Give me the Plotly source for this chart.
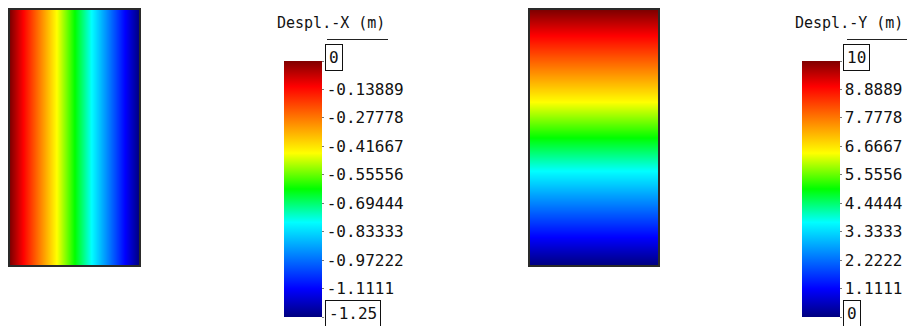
import plotly.graph_objects as go

W, H = 911, 326

# Plate geometry (m) and nodal displacements (m)
plate_x = [0.0, 1.0]
plate_y = [0.0, 2.0]
despl_x_nodes = [0.0, -1.25]   # varies along x
despl_y_nodes = [0.0, 10.0]    # varies along y

# Legend labels
ticks_x = ["0", "-0.13889", "-0.27778", "-0.41667", "-0.55556",
           "-0.69444", "-0.83333", "-0.97222", "-1.1111", "-1.25"]
ticks_y = ["10", "8.8889", "7.7778", "6.6667", "5.5556",
           "4.4444", "3.3333", "2.2222", "1.1111", "0"]

title_x = "Despl.-X (m)"
title_y = "Despl.-Y (m)"

jet = [
    [0.00, "rgb(0,0,128)"],
    [0.11, "rgb(0,0,255)"],
    [0.37, "rgb(0,255,255)"],
    [0.50, "rgb(0,255,0)"],
    [0.64, "rgb(255,255,0)"],
    [0.90, "rgb(255,0,0)"],
    [1.00, "rgb(128,0,0)"],
]

FONT = "DejaVu Sans Mono"


def px(p):
    return p / W


def py(p):
    return 1 - p / H


z_x = [[v for v in despl_x_nodes] for _ in plate_y]
z_y = [[v for _ in plate_x] for v in despl_y_nodes]

BAR_TOP, BAR_LEN, BAR_W = 61, 256, 38
bars = [
    dict(left=284, ticks=ticks_x, title=title_x, tx=275, ul=(327, 388)),
    dict(left=802, ticks=ticks_y, title=title_y, tx=793, ul=(847, 907)),
]


def colorbar(b):
    vals = [float(t) for t in b["ticks"]]
    text = [t if 0 < i < len(vals) - 1 else "" for i, t in enumerate(b["ticks"])]
    return dict(
        x=px(b["left"]), xanchor="left", xpad=0,
        y=py(BAR_TOP), yanchor="top", ypad=0,
        len=BAR_LEN, lenmode="pixels",
        thickness=BAR_W, thicknessmode="pixels",
        outlinewidth=0, borderwidth=0,
        tickmode="array", tickvals=vals, ticktext=text,
        ticks="outside", ticklen=2, tickwidth=1, tickcolor="#777",
        tickfont=dict(family=FONT, size=16, color="#111"),
    )


fig = go.Figure()
fig.add_trace(go.Heatmap(
    x=plate_x, y=plate_y, z=z_x, zsmooth="best",
    colorscale=jet, zmin=min(despl_x_nodes), zmax=max(despl_x_nodes),
    colorbar=colorbar(bars[0]), xaxis="x", yaxis="y", hoverinfo="skip",
))
fig.add_trace(go.Heatmap(
    x=plate_x, y=plate_y, z=z_y, zsmooth="best",
    colorscale=jet, zmin=min(despl_y_nodes), zmax=max(despl_y_nodes),
    colorbar=colorbar(bars[1]), xaxis="x2", yaxis="y2", hoverinfo="skip",
))

ax_common = dict(showgrid=False, zeroline=False, showticklabels=False, ticks="",
                 showline=True, mirror=True, linecolor="#2a2a2a", linewidth=1.5)

annotations = []
shapes = []
for b in bars:
    vals = [float(t) for t in b["ticks"]]
    vmax, vmin = max(vals), min(vals)
    annotations.append(dict(
        x=px(b["tx"]), y=py(23), xref="paper", yref="paper",
        xanchor="left", yanchor="middle", showarrow=False,
        text=b["title"], font=dict(family=FONT, size=15, color="#111"),
    ))
    shapes.append(dict(type="line", xref="paper", yref="paper",
                       x0=px(b["ul"][0]), x1=px(b["ul"][1]), y0=py(39.5), y1=py(39.5),
                       line=dict(color="#222", width=1)))
    for i in (0, len(vals) - 1):
        v = vals[i]
        ypos = BAR_TOP + (vmax - v) / (vmax - vmin) * BAR_LEN
        annotations.append(dict(
            x=px(b["left"] + BAR_W + 3), y=py(ypos), xref="paper", yref="paper",
            xanchor="left", yanchor="middle", yshift=4, showarrow=False,
            text=b["ticks"][i], font=dict(family=FONT, size=16, color="#111"),
            bordercolor="#111", borderwidth=1, borderpad=3,
        ))

fig.update_layout(
    width=W, height=H, margin=dict(l=0, r=0, t=0, b=0),
    paper_bgcolor="white", plot_bgcolor="white",
    showlegend=False,
    xaxis=dict(domain=[px(10), px(139)], range=[plate_x[0], plate_x[-1]], **ax_common),
    yaxis=dict(domain=[py(265), py(10)], range=[plate_y[0], plate_y[-1]], **ax_common),
    xaxis2=dict(domain=[px(530), px(658)], range=[plate_x[0], plate_x[-1]], anchor="y2", **ax_common),
    yaxis2=dict(domain=[py(265), py(10)], range=[plate_y[0], plate_y[-1]], anchor="x2", **ax_common),
    annotations=annotations,
    shapes=shapes,
)

fig.write_html("out.html")
